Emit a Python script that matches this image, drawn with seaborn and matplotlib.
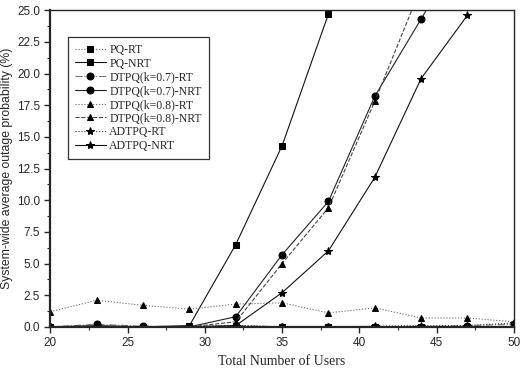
import numpy as np
import pandas as pd
import matplotlib
matplotlib.use('Agg')
import matplotlib.pyplot as plt
import seaborn as sns
from matplotlib.ticker import MultipleLocator

# data
users = [20, 23, 26, 29, 32, 35, 38, 41, 44, 47, 50]

pq_rt = [0, 0, 0, 0, 0.1, 0, 0, 0, 0, 0, 0]
pq_nrt = [0, 0, 0, 0.1, 6.5, 14.3, 24.7]
dtpq7_rt = [0, 0.2, 0.05, 0, 0.1, 0, 0, 0, 0, 0.1, 0.2]
dtpq7_nrt = [0, 0.1, 0, 0, 0.8, 5.7, 9.9, 18.2, 24.3, 30.5]
dtpq8_rt = [1.2, 2.1, 1.7, 1.4, 1.8, 1.9, 1.1, 1.5, 0.7, 0.7, 0.4]
dtpq8_nrt = [0, 0.05, 0, 0, 0.4, 5.0, 9.4, 17.8, 26.8]
adtpq_rt = [0, 0, 0, 0, 0.1, 0, 0, 0.05, 0.1, 0.1, 0.3]
adtpq_nrt = [0, 0, 0, 0, 0.1, 2.7, 6.0, 11.8, 19.6, 24.6]

labels = ['PQ-RT', 'PQ-NRT', 'DTPQ(k=0.7)-RT', 'DTPQ(k=0.7)-NRT',
          'DTPQ(k=0.8)-RT', 'DTPQ(k=0.8)-NRT', 'ADTPQ-RT', 'ADTPQ-NRT']
series = [pq_rt, pq_nrt, dtpq7_rt, dtpq7_nrt, dtpq8_rt, dtpq8_nrt, adtpq_rt, adtpq_nrt]

markers = ['s', 's', 'o', 'o', '^', '^', '*', '*']
styles = [':', '-', '-.', '-', ':', '--', ':', '-']
colors = ['#555555', '#111111', '#777777', '#222222', '#666666', '#444444', '#333333', '#111111']
msizes = [4.5, 4.5, 5, 5, 5, 5, 6, 6]

sns.set_style('ticks')
plt.rcParams['font.family'] = ['Liberation Sans', 'DejaVu Sans']

fig, ax = plt.subplots(figsize=(5.2, 3.77), dpi=100)
fig.subplots_adjust(left=0.097, right=0.988, top=0.973, bottom=0.133)

for lab, vals, m, ls, c, ms in zip(labels, series, markers, styles, colors, msizes):
    sns.lineplot(x=users[:len(vals)], y=vals, ax=ax, label=lab, marker=m,
                 linestyle=ls, color=c, markersize=ms, linewidth=0.8,
                 markeredgecolor='black', markerfacecolor='black')

ax.set_xlim(20, 50)
ax.set_ylim(0, 25)
ax.xaxis.set_major_locator(MultipleLocator(5))
ax.xaxis.set_minor_locator(MultipleLocator(2.5))
ax.yaxis.set_major_locator(MultipleLocator(2.5))
ax.yaxis.set_minor_locator(MultipleLocator(1.25))
ax.yaxis.set_major_formatter(matplotlib.ticker.FormatStrFormatter('%.1f'))
ax.tick_params(which='major', direction='out', length=4, width=1, labelsize=8.5)
ax.tick_params(which='minor', direction='out', length=2, width=0.8)
for sp in ax.spines.values():
    sp.set_linewidth(1.0)
ax.spines['left'].set_linewidth(1.6)
ax.spines['bottom'].set_linewidth(1.6)

ax.set_xlabel('Total Number of Users', family='Liberation Serif', fontsize=10)
ax.set_ylabel('System-wide average outage probability (%)', family='Liberation Sans',
              fontsize=8.8, labelpad=3)

leg = ax.legend(loc='upper left', bbox_to_anchor=(0.025, 0.935), frameon=True, fancybox=False,
                prop={'family': 'Liberation Serif', 'size': 8.5}, handlelength=2.6,
                labelspacing=0.15, borderpad=0.6, handletextpad=0.3)
leg.get_frame().set_edgecolor('black')
leg.get_frame().set_linewidth(0.9)

plt.savefig('out.png', dpi=100)
